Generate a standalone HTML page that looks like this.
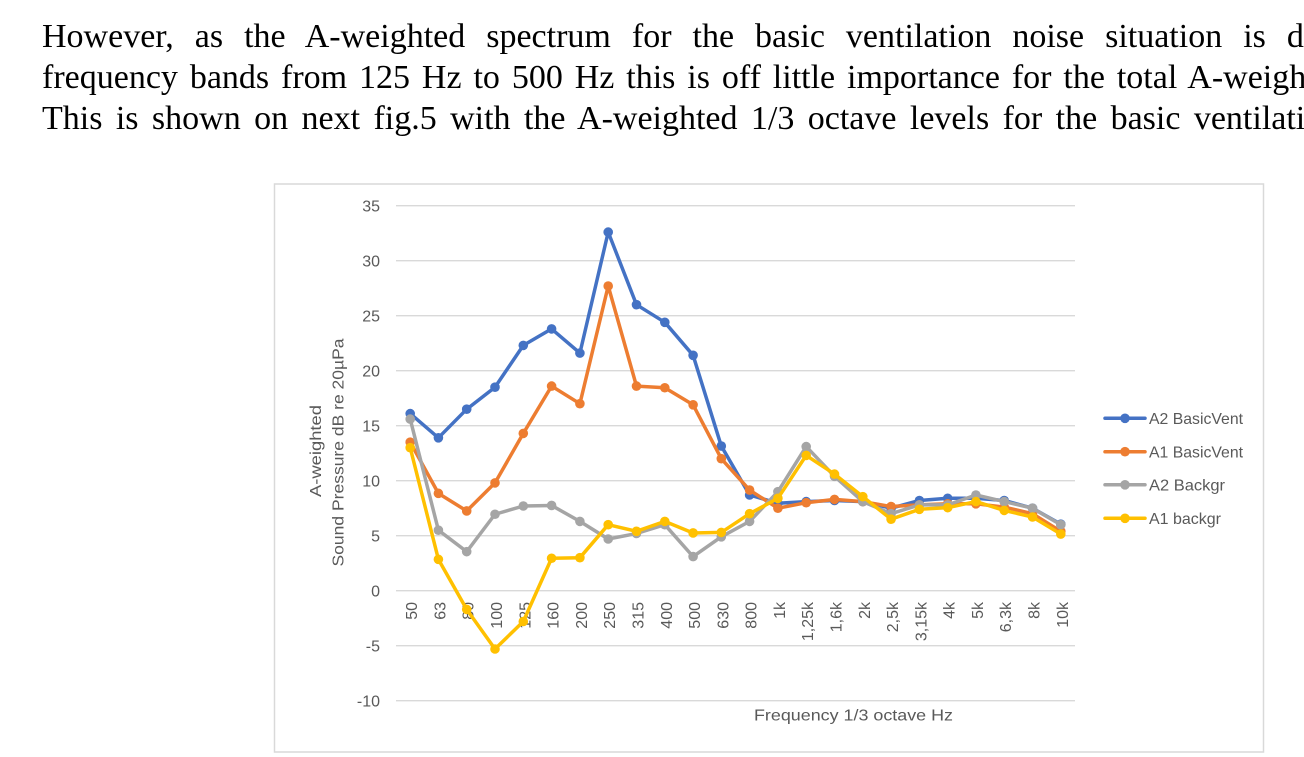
<!DOCTYPE html>
<html>
<head>
<meta charset="utf-8">
<style>
  html, body { margin:0; padding:0; background:#ffffff; }
  body { width:1304px; height:757px; overflow:hidden; }
  svg { display:block; }
  .para { font-family:"Liberation Serif", "Times New Roman", serif; font-size:34px; fill:#000; }
  .ax { font-family:"Liberation Sans", Arial, sans-serif; font-size:16px; fill:#595959; }
</style>
</head>
<body>
<svg width="1304" height="757" viewBox="0 0 1304 757" xmlns="http://www.w3.org/2000/svg">
  <defs>
    <marker id="mb" markerWidth="12" markerHeight="12" refX="6" refY="6" markerUnits="userSpaceOnUse"><circle cx="6" cy="6" r="4.8" fill="#4472C4"/></marker>
    <marker id="mo" markerWidth="12" markerHeight="12" refX="6" refY="6" markerUnits="userSpaceOnUse"><circle cx="6" cy="6" r="4.8" fill="#ED7D31"/></marker>
    <marker id="mg" markerWidth="12" markerHeight="12" refX="6" refY="6" markerUnits="userSpaceOnUse"><circle cx="6" cy="6" r="4.8" fill="#A5A5A5"/></marker>
    <marker id="my" markerWidth="12" markerHeight="12" refX="6" refY="6" markerUnits="userSpaceOnUse"><circle cx="6" cy="6" r="4.8" fill="#FFC000"/></marker>
  </defs>

  <!-- Paragraph -->
  <text class="para" x="42" y="47" style="word-spacing:12.5px">However, as the A-weighted spectrum for the basic ventilation noise situation is d</text>
  <text class="para" x="42" y="88" style="word-spacing:3.4px">frequency bands from 125 Hz to 500 Hz this is off little importance for the total A-weighted</text>
  <text class="para" x="42" y="129" style="word-spacing:4.9px">This is shown on next fig.5 with the A-weighted 1/3 octave levels for the basic ventilation</text>

  <!-- Chart frame -->
  <rect x="274.5" y="184" width="989" height="568" fill="#ffffff" stroke="#d9d9d9" stroke-width="1.5"/>

  <!-- Gridlines -->
  <g stroke="#d9d9d9" stroke-width="1.3">
    <line x1="396" y1="205.7" x2="1075" y2="205.7"/>
    <line x1="396" y1="260.7" x2="1075" y2="260.7"/>
    <line x1="396" y1="315.7" x2="1075" y2="315.7"/>
    <line x1="396" y1="370.7" x2="1075" y2="370.7"/>
    <line x1="396" y1="425.7" x2="1075" y2="425.7"/>
    <line x1="396" y1="480.7" x2="1075" y2="480.7"/>
    <line x1="396" y1="535.7" x2="1075" y2="535.7"/>
    <line x1="396" y1="590.7" x2="1075" y2="590.7"/>
    <line x1="396" y1="645.7" x2="1075" y2="645.7"/>
    <line x1="396" y1="700.7" x2="1075" y2="700.7"/>
  </g>

  <!-- Y tick labels -->
  <g class="ax" text-anchor="end">
    <text x="380" y="211.5">35</text>
    <text x="380" y="266.5">30</text>
    <text x="380" y="321.5">25</text>
    <text x="380" y="376.5">20</text>
    <text x="380" y="431.5">15</text>
    <text x="380" y="486.5">10</text>
    <text x="380" y="541.5">5</text>
    <text x="380" y="596.5">0</text>
    <text x="380" y="651.5">-5</text>
    <text x="380" y="706.5">-10</text>
  </g>

  <!-- X tick labels (rotated) -->
  <g class="ax" text-anchor="end">
    <text transform="translate(417.2,602) rotate(-90)">50</text>
    <text transform="translate(445.4,602) rotate(-90)">63</text>
    <text transform="translate(473.7,602) rotate(-90)">80</text>
    <text transform="translate(502.0,602) rotate(-90)">100</text>
    <text transform="translate(530.3,602) rotate(-90)">125</text>
    <text transform="translate(558.6,602) rotate(-90)">160</text>
    <text transform="translate(586.9,602) rotate(-90)">200</text>
    <text transform="translate(615.2,602) rotate(-90)">250</text>
    <text transform="translate(643.5,602) rotate(-90)">315</text>
    <text transform="translate(671.8,602) rotate(-90)">400</text>
    <text transform="translate(700.1,602) rotate(-90)">500</text>
    <text transform="translate(728.3,602) rotate(-90)">630</text>
    <text transform="translate(756.6,602) rotate(-90)">800</text>
    <text transform="translate(784.9,602) rotate(-90)">1k</text>
    <text transform="translate(813.2,602) rotate(-90)">1,25k</text>
    <text transform="translate(841.5,602) rotate(-90)">1,6k</text>
    <text transform="translate(869.8,602) rotate(-90)">2k</text>
    <text transform="translate(898.1,602) rotate(-90)">2,5k</text>
    <text transform="translate(926.4,602) rotate(-90)">3,15k</text>
    <text transform="translate(954.7,602) rotate(-90)">4k</text>
    <text transform="translate(982.9,602) rotate(-90)">5k</text>
    <text transform="translate(1011.2,602) rotate(-90)">6,3k</text>
    <text transform="translate(1039.5,602) rotate(-90)">8k</text>
    <text transform="translate(1067.8,602) rotate(-90)">10k</text>
  </g>

  <!-- Axis titles -->
  <text class="ax" x="754" y="720.5" textLength="199" lengthAdjust="spacingAndGlyphs">Frequency 1/3 octave Hz</text>
  <text class="ax" transform="translate(321,451) rotate(-90)" text-anchor="middle" textLength="92" lengthAdjust="spacingAndGlyphs">A-weighted</text>
  <text class="ax" transform="translate(343.5,452.5) rotate(-90)" text-anchor="middle" textLength="228" lengthAdjust="spacingAndGlyphs">Sound Pressure dB re 20µPa</text>

  <!-- Series -->
  <g fill="none" stroke-width="3.5" stroke-linejoin="round" stroke-linecap="round">
    <polyline stroke="#4472C4" marker-start="url(#mb)" marker-mid="url(#mb)" marker-end="url(#mb)"
      points="410.2,413.6 438.4,437.8 466.7,409.2 495.0,387.2 523.3,345.4 551.6,328.9 579.9,353.1 608.2,232.1 636.5,304.7 664.8,322.3 693.1,355.3 721.3,446.05 749.6,495.0 777.9,503.25 806.2,501.6 834.5,500.5 862.8,501.6 891.1,508.2 919.4,500.5 947.7,498.3 975.9,498.3 1004.2,500.5 1032.5,508.2 1060.8,524.15"/>
    <polyline stroke="#ED7D31" marker-start="url(#mo)" marker-mid="url(#mo)" marker-end="url(#mo)"
      points="410.2,442.2 438.4,493.35 466.7,510.95 495.0,482.9 523.3,433.4 551.6,386.1 579.9,403.7 608.2,286.0 636.5,386.1 664.8,387.75 693.1,404.8 721.3,458.7 749.6,490.05 777.9,508.2 806.2,502.7 834.5,499.4 862.8,501.6 891.1,506.55 919.4,504.9 947.7,503.8 975.9,503.8 1004.2,507.1 1032.5,513.7 1060.8,531.3"/>
    <polyline stroke="#A5A5A5" marker-start="url(#mg)" marker-mid="url(#mg)" marker-end="url(#mg)"
      points="410.2,419.1 438.4,530.2 466.7,551.65 495.0,514.25 523.3,506.0 551.6,505.45 579.9,521.4 608.2,539.0 636.5,533.5 664.8,524.7 693.1,556.6 721.3,536.8 749.6,521.4 777.9,491.7 806.2,446.6 834.5,476.3 862.8,501.6 891.1,513.7 919.4,504.9 947.7,504.9 975.9,495.0 1004.2,501.6 1032.5,508.2 1060.8,524.7"/>
    <polyline stroke="#FFC000" marker-start="url(#my)" marker-mid="url(#my)" marker-end="url(#my)"
      points="410.2,447.7 438.4,559.35 466.7,609.4 495.0,649.0 523.3,621.5 551.6,558.25 579.9,557.7 608.2,524.7 636.5,531.3 664.8,521.4 693.1,532.95 721.3,532.4 749.6,513.7 777.9,498.3 806.2,455.4 834.5,474.1 862.8,496.65 891.1,519.2 919.4,509.3 947.7,507.65 975.9,501.6 1004.2,510.4 1032.5,517.0 1060.8,534.05"/>
  </g>

  <!-- Legend -->
  <g stroke-width="3.5" stroke-linecap="round">
    <line x1="1105" y1="418.3" x2="1145" y2="418.3" stroke="#4472C4"/>
    <line x1="1105" y1="451.7" x2="1145" y2="451.7" stroke="#ED7D31"/>
    <line x1="1105" y1="484.8" x2="1145" y2="484.8" stroke="#A5A5A5"/>
    <line x1="1105" y1="518.3" x2="1145" y2="518.3" stroke="#FFC000"/>
  </g>
  <circle cx="1125" cy="418.3" r="4.8" fill="#4472C4"/>
  <circle cx="1125" cy="451.7" r="4.8" fill="#ED7D31"/>
  <circle cx="1125" cy="484.8" r="4.8" fill="#A5A5A5"/>
  <circle cx="1125" cy="518.3" r="4.8" fill="#FFC000"/>
  <g class="ax">
    <text x="1149" y="424" textLength="94" lengthAdjust="spacingAndGlyphs">A2 BasicVent</text>
    <text x="1149" y="457.4" textLength="94" lengthAdjust="spacingAndGlyphs">A1 BasicVent</text>
    <text x="1149" y="490.5" textLength="76" lengthAdjust="spacingAndGlyphs">A2 Backgr</text>
    <text x="1149" y="524" textLength="72" lengthAdjust="spacingAndGlyphs">A1 backgr</text>
  </g>
</svg>
</body>
</html>
